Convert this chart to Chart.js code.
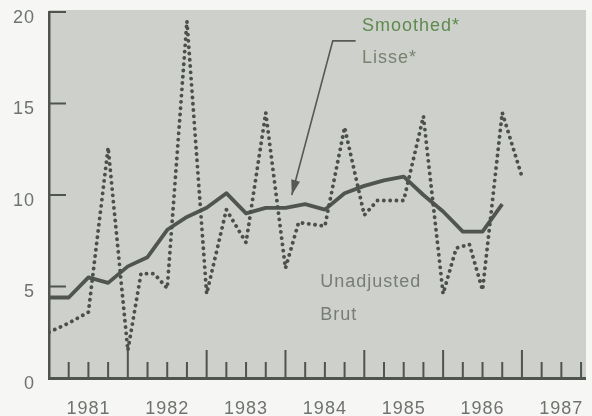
<!DOCTYPE html>
<html>
<head>
<meta charset="utf-8">
<script src="https://cdn.jsdelivr.net/npm/chart.js@4"></script>
<style>
  html, body { margin:0; padding:0; background:#f6f7f4; }
  #wrap { width:592px; height:416px; position:relative; }
</style>
</head>
<body>
<div id="wrap"><canvas id="c" width="592" height="416"></canvas></div>
<script>
// ---- data (months counted from January 1981) ----
const years = [1981, 1982, 1983, 1984, 1985, 1986, 1987];
const yTicks = [0, 5, 10, 15, 20];
const unadjMonths = [0, 3, 6, 9, 12, 14, 16, 18, 21, 24, 27, 30, 33, 36, 38, 42, 45, 48, 50, 54, 57, 60, 62, 64, 66, 69, 72];
const unadjValues = [2.5, 3.0, 3.6, 12.6, 1.5, 5.7, 5.7, 4.9, 19.5, 4.6, 9.2, 7.4, 14.5, 6.0, 8.5, 8.3, 13.7, 8.9, 9.7, 9.7, 14.3, 4.6, 7.1, 7.3, 4.8, 14.5, 11.0];
const smoothMonths = [0, 3, 6, 9, 12, 15, 18, 21, 24, 27, 30, 33, 36, 39, 42, 45, 48, 51, 54, 57, 60, 63, 66, 69];
const smoothValues = [4.4, 4.4, 5.5, 5.2, 6.1, 6.6, 8.1, 8.8, 9.3, 10.1, 9.0, 9.3, 9.3, 9.5, 9.2, 10.1, 10.5, 10.8, 11.0, 10.0, 9.1, 8.0, 8.0, 9.5];
const labelSmoothed = 'Smoothed*';
const labelLisse = 'Lisse*';
const labelUnadj = 'Unadjusted';
const labelBrut = 'Brut';

const toPts = (months, vals) => months.map((m, i) => ({ x: years[0] + m / 12, y: vals[i] }));

const FONT = "'Liberation Sans', Arial, Helvetica, sans-serif";
const PLOT_BG = '#cdd0cb';
const AXIS = '#4f544e';
const TEXT = '#6f736e';

const decor = {
  id: 'decor',
  beforeDraw(chart) {
    const { ctx, chartArea: a } = chart;
    ctx.letterSpacing = '1px';
    ctx.save();
    ctx.fillStyle = PLOT_BG;
    ctx.fillRect(a.left, a.top - 2, a.right - a.left + 1, a.bottom - a.top + 2);
    ctx.restore();
  },
  afterDatasetsDraw(chart) {
    const { ctx, chartArea: a, scales: { x, y } } = chart;
    ctx.save();
    ctx.strokeStyle = AXIS;
    ctx.lineWidth = 2;
    ctx.lineCap = 'butt';
    yTicks.forEach(v => {
      const py = y.getPixelForValue(v);
      ctx.beginPath(); ctx.moveTo(a.left, py); ctx.lineTo(a.left + 17, py); ctx.stroke();
    });
    years.forEach(yr => {
      for (let q = 0; q < 4; q++) {
        const v = yr + q / 4;
        if (v > x.max) continue;
        const px = x.getPixelForValue(v);
        const len = q === 0 ? 28 : 16;
        ctx.beginPath(); ctx.moveTo(px, a.bottom); ctx.lineTo(px, a.bottom - len); ctx.stroke();
      }
    });
    ctx.restore();
  },
  afterDraw(chart) {
    const { ctx, scales: { x, y } } = chart;
    ctx.save();
    ctx.letterSpacing = '1px';
    ctx.textBaseline = 'middle';
    ctx.textAlign = 'left';
    ctx.font = '18px ' + FONT;
    ctx.fillStyle = '#5f8a4f';
    ctx.fillText(labelSmoothed, x.getPixelForValue(1984.97), y.getPixelForValue(19.23));
    ctx.fillStyle = '#79826f';
    ctx.fillText(labelLisse, x.getPixelForValue(1984.97), y.getPixelForValue(17.5));
    ctx.fillStyle = '#787c77';
    ctx.fillText(labelUnadj, x.getPixelForValue(1984.44), y.getPixelForValue(5.25));
    ctx.fillText(labelBrut, x.getPixelForValue(1984.44), y.getPixelForValue(3.44));

    const x0 = x.getPixelForValue(1984.89), y0 = y.getPixelForValue(18.42);
    const x1 = x.getPixelForValue(1984.60);
    const xt = x.getPixelForValue(1984.08), yt = y.getPixelForValue(10.0);
    ctx.strokeStyle = '#555a54';
    ctx.fillStyle = '#555a54';
    ctx.lineWidth = 1.6;
    ctx.beginPath(); ctx.moveTo(x0, y0); ctx.lineTo(x1, y0); ctx.lineTo(xt, yt); ctx.stroke();
    const ang = Math.atan2(yt - y0, xt - x1);
    const L = 15, W = 4.5;
    const bx = xt - L * Math.cos(ang), by = yt - L * Math.sin(ang);
    ctx.beginPath();
    ctx.moveTo(xt, yt);
    ctx.lineTo(bx + W * Math.sin(ang), by - W * Math.cos(ang));
    ctx.lineTo(bx - W * Math.sin(ang), by + W * Math.cos(ang));
    ctx.closePath(); ctx.fill();
    ctx.restore();
  }
};

new Chart(document.getElementById('c'), {
  type: 'line',
  data: {
    datasets: [
      {
        label: labelUnadj,
        data: toPts(unadjMonths, unadjValues),
        borderColor: '#4b504a',
        borderWidth: 3.8,
        borderDash: [0.1, 6.2],
        borderCapStyle: 'round',
        borderJoinStyle: 'round',
        pointRadius: 0,
        tension: 0,
        fill: false
      },
      {
        label: labelSmoothed,
        data: toPts(smoothMonths, smoothValues),
        borderColor: '#50554f',
        borderWidth: 3.8,
        borderJoinStyle: 'round',
        borderCapStyle: 'butt',
        pointRadius: 0,
        tension: 0,
        fill: false
      }
    ]
  },
  options: {
    responsive: false,
    animation: false,
    events: [],
    layout: { padding: { left: 0, right: 7, top: 12, bottom: 0 } },
    plugins: { legend: { display: false }, tooltip: { enabled: false } },
    scales: {
      x: {
        type: 'linear',
        min: years[0],
        max: 1987.8,
        grid: { display: false, drawTicks: false },
        border: { display: true, color: AXIS, width: 3 },
        afterBuildTicks(scale) { scale.ticks = years.map(v => ({ value: v + 0.5 })); },
        afterFit(scale) { scale.height = 38; scale.paddingLeft = 0; scale.paddingRight = 0; },
        ticks: {
          autoSkip: false, maxRotation: 0, minRotation: 0,
          padding: 20,
          color: TEXT,
          font: { family: FONT, size: 18 },
          callback: v => String(Math.floor(v))
        }
      },
      y: {
        min: 0, max: 20,
        grid: { display: false, drawTicks: false },
        border: { display: true, color: AXIS, width: 2.5 },
        afterBuildTicks(scale) { scale.ticks = yTicks.map(v => ({ value: v })); },
        afterFit(scale) { scale.width = 49; scale.paddingTop = 0; scale.paddingBottom = 0; },
        ticks: {
          padding: 14,
          labelOffset: 6,
          color: TEXT,
          font: { family: FONT, size: 18 },
          callback: v => String(v)
        }
      }
    }
  },
  plugins: [decor]
});
</script>
</body>
</html>
